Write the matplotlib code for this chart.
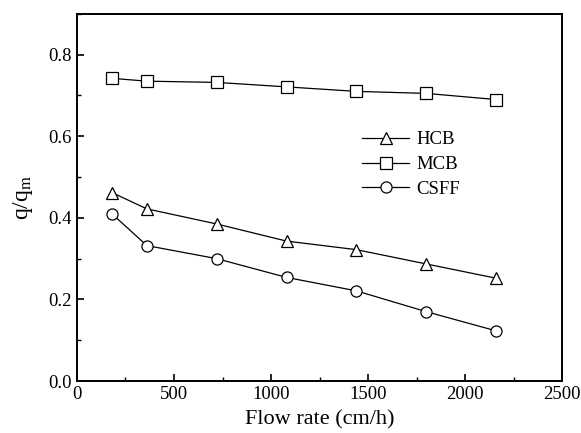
import matplotlib.pyplot as plt
from matplotlib.ticker import MultipleLocator

plt.rcParams['font.family'] = ['Liberation Serif', 'DejaVu Serif']
plt.rcParams['mathtext.fontset'] = 'stix'

flow = [180, 360, 720, 1080, 1440, 1800, 2160]
hcb = [0.462, 0.422, 0.385, 0.343, 0.322, 0.287, 0.252]
mcb = [0.742, 0.735, 0.732, 0.721, 0.710, 0.705, 0.690]
csff = [0.410, 0.332, 0.300, 0.254, 0.221, 0.170, 0.123]

fig = plt.figure(figsize=(5.81, 4.33), dpi=100)
ax = fig.add_axes([0.1325, 0.12, 0.835, 0.848])

style = dict(color='black', lw=0.9, markersize=8, markerfacecolor='white',
             markeredgecolor='black', markeredgewidth=0.9)
ax.plot(flow, hcb, marker='^', label='HCB', **style)
ax.plot(flow, mcb, marker='s', label='MCB', **style)
ax.plot(flow, csff, marker='o', label='CSFF', **style)

ax.set_xlim(0, 2500)
ax.set_ylim(0, 0.9)
ax.xaxis.set_major_locator(MultipleLocator(500))
ax.xaxis.set_minor_locator(MultipleLocator(250))
ax.yaxis.set_major_locator(MultipleLocator(0.2))
ax.yaxis.set_minor_locator(MultipleLocator(0.1))
ax.yaxis.set_major_formatter(plt.FormatStrFormatter('%.1f'))
ax.tick_params(which='both', direction='in', top=False, right=False, labelsize=13.5)
ax.tick_params(which='major', length=5, width=1.2)
ax.tick_params(which='minor', length=3, width=1.0)
for s in ax.spines.values():
    s.set_linewidth(1.4)

ax.set_xlabel('Flow rate (cm/h)', fontsize=16, labelpad=5)
ax.set_ylabel(r'q/q$_\mathrm{m}$', fontsize=17, labelpad=10)

ax.legend(loc='upper left', bbox_to_anchor=(0.588, 0.68), frameon=False,
          fontsize=13.5, borderpad=0, borderaxespad=0, handlelength=2.5,
          handletextpad=0.4, labelspacing=0.4)

fig.savefig('out.png')
